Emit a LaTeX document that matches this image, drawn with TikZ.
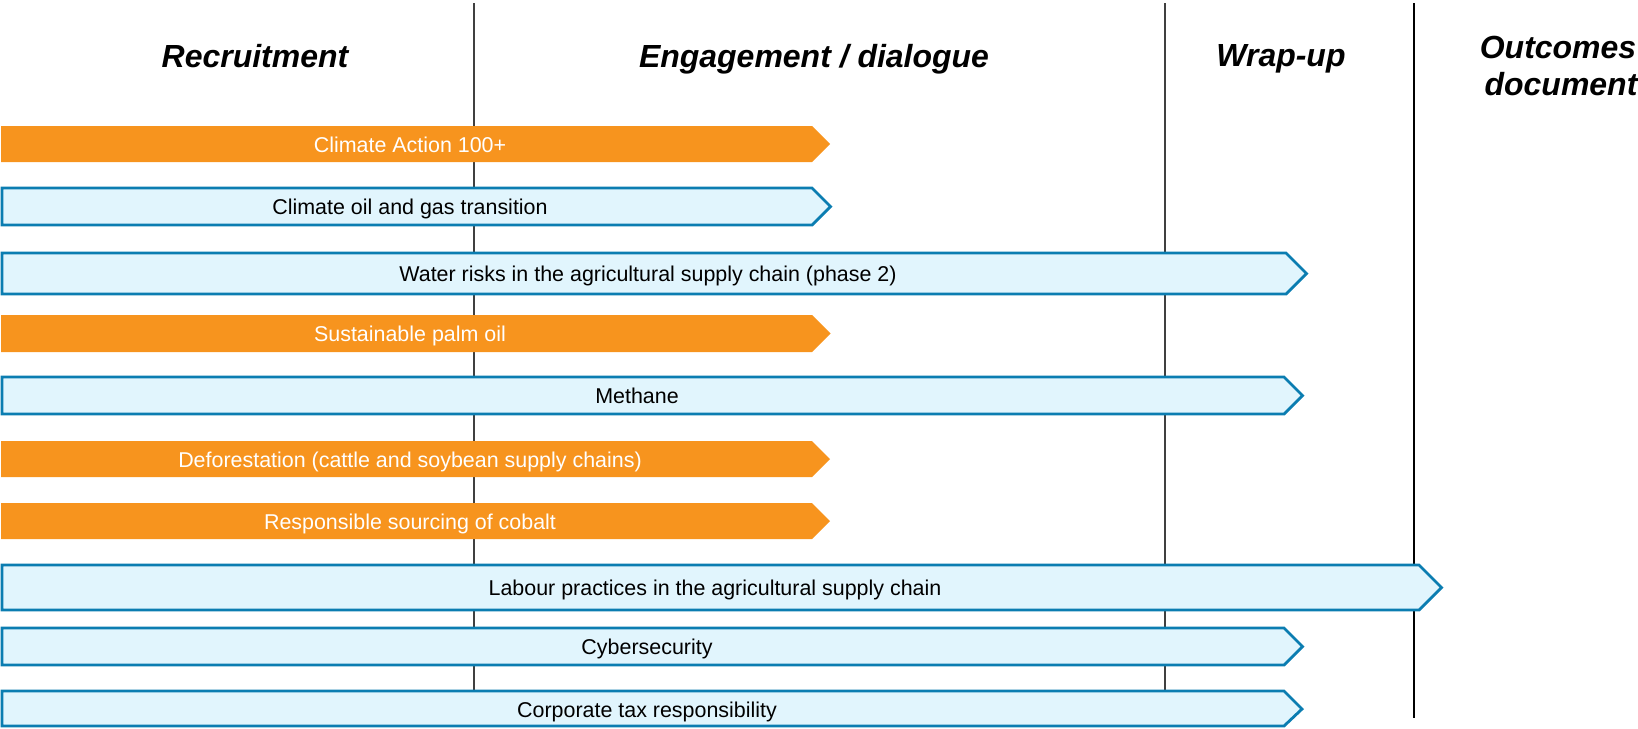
\documentclass[tikz,border=0pt]{standalone}
\usepackage{fontspec}
\setmainfont{Liberation Sans}
\usetikzlibrary{positioning}
\definecolor{orangebar}{HTML}{F7941E}
\definecolor{bluefill}{HTML}{E1F5FD}
\definecolor{blueline}{HTML}{0B7DB1}
\colorlet{phaseline}{black!75}

\begin{document}
\begin{tikzpicture}[x=0.02cm,y=-0.02cm,
  orangestage/.style={fill=orangebar,draw=none},
  bluestage/.style={fill=bluefill,draw=blueline,line width=1.6pt,line join=miter},
  stagelabel/.style={anchor=base,inner sep=0pt,font=\fontsize{12.2}{14}\selectfont},
  phasehead/.style={anchor=base,inner sep=0pt,font=\fontsize{18.2}{20}\selectfont\bfseries\itshape}]
\useasboundingbox (0,0) rectangle (1638,728);

\draw[phaseline,line width=1pt] (474,3) -- (474,700);
\draw[phaseline,line width=1pt] (1165,3) -- (1165,700);
\draw[black,line width=1pt] (1414,3) -- (1414,718);

\node[phasehead] (headRecruit) at (255,67) {Recruitment};
\node[phasehead] (headEngage) at (814,67) {Engagement / dialogue};
\node[phasehead] (headWrap) at (1281,66) {Wrap-up};
\node[phasehead] (headOutA) at (1558,58) {Outcomes};
\node[phasehead] (headOutB) at (1561,95) {document};

\fill[orangestage] (1,126) -- (812,126) -- (830,144) -- (812,162) -- (1,162) -- cycle;
\draw[bluestage] (2,188) -- (812,188) -- (830.5,206.5) -- (812,225) -- (2,225) -- cycle;
\draw[bluestage] (2,253) -- (1286,253) -- (1306.5,273.5) -- (1286,294) -- (2,294) -- cycle;
\fill[orangestage] (1,315) -- (812,315) -- (830.5,333.5) -- (812,352) -- (1,352) -- cycle;
\draw[bluestage] (2,377) -- (1284,377) -- (1302.5,395.5) -- (1284,414) -- (2,414) -- cycle;
\fill[orangestage] (1,441) -- (812,441) -- (830,459) -- (812,477) -- (1,477) -- cycle;
\fill[orangestage] (1,503) -- (812,503) -- (830,521) -- (812,539) -- (1,539) -- cycle;
\draw[bluestage] (2,565) -- (1419,565) -- (1441.5,587.5) -- (1419,610) -- (2,610) -- cycle;
\draw[bluestage] (2,628) -- (1284,628) -- (1302.5,646.5) -- (1284,665) -- (2,665) -- cycle;
\draw[bluestage] (2,691) -- (1284,691) -- (1302,709) -- (1284,726) -- (2,726) -- cycle;

\node[stagelabel,text=white] (climate100) at (410,152) {Climate Action 100+};
\node[stagelabel] (oilgas) at (410,214.5) {Climate oil and gas transition};
\node[stagelabel] (waterrisk) at (648,281.5) {Water risks in the agricultural supply chain (phase 2)};
\node[stagelabel,text=white] (palmoil) at (410,341.5) {Sustainable palm oil};
\node[stagelabel] (methane) at (637,403.5) {Methane};
\node[stagelabel,text=white] (deforest) at (410,467) {Deforestation (cattle and soybean supply chains)};
\node[stagelabel,text=white] (cobalt) at (410,529) {Responsible sourcing of cobalt};
\node[stagelabel] (labour) at (715,595.5) {Labour practices in the agricultural supply chain};
\node[stagelabel] (cyber) at (647,654.5) {Cybersecurity};
\node[stagelabel] (corptax) at (647,717) {Corporate tax responsibility};

\end{tikzpicture}
\end{document}
